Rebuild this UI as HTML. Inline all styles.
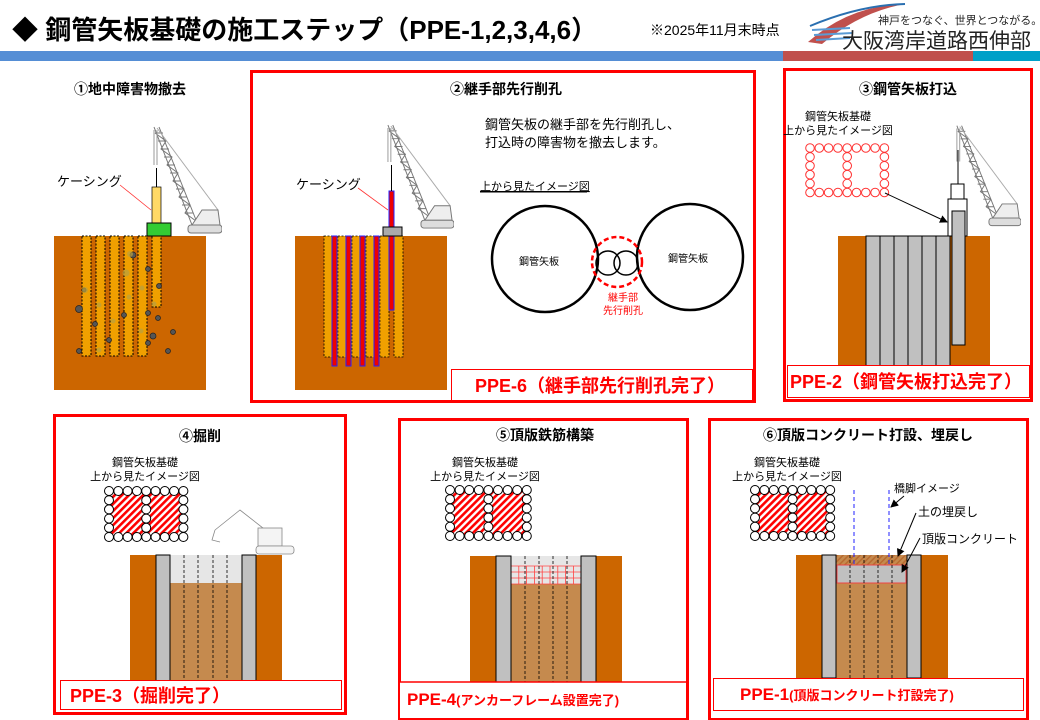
<!DOCTYPE html>
<html><head><meta charset="utf-8">
<style>
html,body{margin:0;padding:0;background:#fff;}
svg{display:block;font-family:"Liberation Sans","Noto Sans CJK JP",sans-serif;}
</style></head>
<body>
<svg id="s" width="1040" height="720" viewBox="0 0 1040 720" xmlns="http://www.w3.org/2000/svg">
<defs>
<pattern id="hat" width="5" height="5" patternUnits="userSpaceOnUse" patternTransform="rotate(45)">
<rect width="5" height="5" fill="#fff"/><rect width="2.6" height="5" fill="#f00"/></pattern>
<pattern id="soil" width="4" height="4" patternUnits="userSpaceOnUse" patternTransform="rotate(45)">
<rect width="4" height="4" fill="#c58a4e"/><rect width="1.5" height="4" fill="#b86a30"/></pattern>
<marker id="ar" markerWidth="8" markerHeight="8" refX="7" refY="4" orient="auto"><path d="M0,0 L8,4 L0,8z" fill="#000"/></marker>
<symbol id="crane" viewBox="0 0 70 115">
<g stroke="#777" stroke-width="1" fill="none">
<path d="M2,2 L40,100 M7,2 L46,100"/>
<path d="M3,8 L11,8 M6,16 L14,16 M9,24 L17,24 M12,32 L20,32 M15,40 L23,40 M18,48 L26,48 M21,56 L29,56 M24,64 L32,64 M27,72 L35,72 M30,80 L38,80 M33,88 L41,88"/>
<path d="M3,8 L14,16 L9,24 L20,32 L15,40 L26,48 L21,56 L32,64 L27,72 L38,80 L33,88 L44,96"/>
<path d="M5,3 L66,85" stroke="#aaa"/>
<path d="M2,5 L2,40 M5,5 L5,40" stroke="#999"/>
<path d="M50,85 L66,85 L68,100 L40,100 Z" fill="#eee"/>
<rect x="36" y="100" width="34" height="8" rx="3" fill="#ddd"/>
</g></symbol>
</defs>

<!-- header -->
<text x="12" y="39" font-size="26" font-weight="bold" fill="#000">◆ 鋼管矢板基礎の施工ステップ（PPE-1,2,3,4,6）</text>
<text x="650" y="35" font-size="14" fill="#000">※2025年11月末時点</text>
<path d="M808,42 Q850,5 905,4 Q860,12 822,44 Z" fill="#c0504d"/>
<path d="M810,26 Q860,5 905,4" stroke="#2a6fb0" stroke-width="2" fill="none"/>
<path d="M812,30 L850,28 M814,35 L852,33 M816,40 L850,38" stroke="#5b9bd5" stroke-width="2"/>
<text x="878" y="24" font-size="11" fill="#222">神戸をつなぐ、世界とつながる。</text>
<text x="842" y="48" font-size="21" fill="#222">大阪湾岸道路西伸部</text>
<rect x="0" y="51" width="783" height="10" fill="#558ed5"/>
<rect x="783" y="51" width="190" height="10" fill="#c0504d"/>
<rect x="973" y="51" width="67" height="10" fill="#00a0c8"/>

<!-- panel 1 -->
<text x="130" y="94" font-size="14" font-weight="bold" text-anchor="middle">①地中障害物撤去</text>
<rect x="54" y="236" width="152" height="154" fill="#cc6600"/>
<g fill="#f0a000" stroke="#000" stroke-dasharray="2,1.5" stroke-width="1">
<rect x="82" y="236" width="9" height="120"/><rect x="96" y="236" width="9" height="120"/><rect x="110" y="236" width="9" height="120"/><rect x="124" y="236" width="9" height="120"/><rect x="138" y="236" width="9" height="120"/><rect x="152" y="236" width="9" height="71"/></g>
<g fill="#555" stroke="#222" stroke-width="0.7">
<circle cx="133" cy="255" r="3"/><circle cx="148" cy="269" r="2.5"/><circle cx="79" cy="309" r="3.5"/><circle cx="95" cy="324" r="2.5"/><circle cx="124" cy="315" r="2.5"/><circle cx="159" cy="286" r="2.5"/><circle cx="148" cy="313" r="2.5"/><circle cx="158" cy="318" r="2.5"/><circle cx="153" cy="336" r="3"/><circle cx="173" cy="332" r="2.5"/><circle cx="109" cy="340" r="2.5"/><circle cx="79" cy="351" r="2.5"/><circle cx="148" cy="343" r="2.5"/><circle cx="168" cy="351" r="2.5"/><circle cx="84" cy="290" r="2"/></g>
<g fill="#b8a040" opacity="0.7"><circle cx="130" cy="254" r="3"/><circle cx="126" cy="273" r="3.5"/><circle cx="85" cy="290" r="3"/><circle cx="99" cy="305" r="2.5"/><circle cx="129" cy="297" r="2.5"/><circle cx="142" cy="288" r="2.5"/><circle cx="154" cy="304" r="2.5"/><circle cx="113" cy="321" r="2.5"/><circle cx="141" cy="331" r="2.5"/><circle cx="99" cy="350" r="2.5"/></g>
<rect x="152" y="187" width="9" height="36" fill="#ffd966" stroke="#000" stroke-width="0.7"/>
<line x1="156.5" y1="168" x2="156.5" y2="187" stroke="#000"/>
<rect x="147" y="223" width="24" height="13" fill="#33cc33" stroke="#000"/>
<use href="#crane" x="152" y="125" width="70" height="115"/>
<text x="57" y="186" font-size="13">ケーシング</text>
<line x1="120" y1="185" x2="151" y2="210" stroke="#f33" stroke-width="0.8"/>

<!-- panel 2 -->
<rect x="251.5" y="71.5" width="503" height="330" fill="none" stroke="#f00" stroke-width="3"/>
<text x="506" y="94" font-size="14" font-weight="bold" text-anchor="middle">②継手部先行削孔</text>
<rect x="295" y="236" width="152" height="154" fill="#cc6600"/>
<g fill="#f0a000" stroke="#000" stroke-dasharray="2,1.5" stroke-width="0.8">
<rect x="324" y="236" width="65" height="121"/><rect x="394" y="236" width="9" height="121"/></g>
<g stroke="#000" stroke-dasharray="2,1.5" stroke-width="0.6"><line x1="338" y1="236" x2="338" y2="357"/><line x1="352" y1="236" x2="352" y2="357"/><line x1="366" y1="236" x2="366" y2="357"/><line x1="380" y1="236" x2="380" y2="357"/></g>
<g fill="#e00" stroke="#22f" stroke-width="1"><rect x="332" y="236" width="5" height="130"/><rect x="346" y="236" width="5" height="130"/><rect x="360" y="236" width="5" height="130"/><rect x="374" y="236" width="5" height="130"/><rect x="389" y="191" width="5" height="119"/></g>
<line x1="391.5" y1="165" x2="391.5" y2="191" stroke="#000"/>
<rect x="383" y="227" width="19" height="9" fill="#aaa" stroke="#000"/>
<use href="#crane" x="386" y="123" width="68" height="112"/>
<text x="296" y="189" font-size="13">ケーシング</text>
<line x1="358" y1="188" x2="388" y2="210" stroke="#f33" stroke-width="0.8"/>
<text x="485" y="129" font-size="13">鋼管矢板の継手部を先行削孔し、</text>
<text x="485" y="147" font-size="13">打込時の障害物を撤去します。</text>
<text x="480" y="190" font-size="11" text-decoration="underline">上から見たイメージ図</text>
<line x1="480" y1="192" x2="587" y2="192" stroke="#000"/>
<g fill="none" stroke="#000" stroke-width="2.5"><circle cx="545" cy="259" r="53"/><circle cx="690" cy="257" r="53"/></g>
<g fill="none" stroke="#000" stroke-width="1.5"><circle cx="608" cy="263" r="12"/><circle cx="626" cy="263" r="12"/></g>
<circle cx="617" cy="262" r="25" fill="none" stroke="#f00" stroke-width="2.5" stroke-dasharray="5,3"/>
<text x="539" y="265" font-size="10" text-anchor="middle">鋼管矢板</text>
<text x="688" y="262" font-size="10" text-anchor="middle">鋼管矢板</text>
<text x="623" y="301" font-size="10" fill="#f00" text-anchor="middle">継手部</text>
<text x="623" y="314" font-size="10" fill="#f00" text-anchor="middle">先行削孔</text>
<rect x="451.5" y="369.5" width="301" height="31" fill="#fff" stroke="#f00"/>
<text x="600" y="392" font-size="18" font-weight="bold" fill="#f00" text-anchor="middle">PPE-6（継手部先行削孔完了）</text>

<!-- panel 3 -->
<rect x="784.5" y="69.5" width="247" height="331" fill="none" stroke="#f00" stroke-width="3"/>
<text x="908" y="94" font-size="14" font-weight="bold" text-anchor="middle">③鋼管矢板打込</text>
<text x="838" y="120" font-size="11" text-anchor="middle">鋼管矢板基礎</text>
<text x="838" y="134" font-size="11" text-anchor="middle">上から見たイメージ図</text>
<g id="g3" fill="#fff" stroke="#f33" stroke-width="1"></g>
<rect x="838" y="236" width="152" height="130" fill="#cc6600"/>
<g fill="#c0c0c0" stroke="#000" stroke-width="1"><rect x="866" y="236" width="14" height="130"/><rect x="880" y="236" width="14" height="130"/><rect x="894" y="236" width="14" height="130"/><rect x="908" y="236" width="14" height="130"/><rect x="922" y="236" width="14" height="130"/><rect x="936" y="236" width="14" height="130"/></g>
<rect x="948" y="199" width="19" height="37" fill="#fff" stroke="#000"/>
<rect x="951" y="184" width="13" height="15" fill="#fff" stroke="#000"/>
<rect x="952" y="211" width="13" height="134" fill="#c0c0c0" stroke="#000"/>
<line x1="958" y1="150" x2="958" y2="184" stroke="#000"/>
<use href="#crane" x="955" y="123" width="66" height="110"/>
<line x1="885" y1="193" x2="947" y2="222" stroke="#000" marker-end="url(#ar)"/>
<rect x="787.5" y="365.5" width="242" height="32" fill="#fff" stroke="#f00"/>
<text x="906" y="388" font-size="18" font-weight="bold" fill="#f00" text-anchor="middle">PPE-2（鋼管矢板打込完了）</text>

<!-- panel 4 -->
<rect x="54.5" y="415.5" width="291" height="298" fill="none" stroke="#f00" stroke-width="3"/>
<text x="200" y="441" font-size="14" font-weight="bold" text-anchor="middle">④掘削</text>
<text x="145" y="466" font-size="11" text-anchor="middle">鋼管矢板基礎</text>
<text x="145" y="480" font-size="11" text-anchor="middle">上から見たイメージ図</text>
<g id="g4"></g>
<rect x="130" y="555" width="152" height="126" fill="#cc6600"/>
<rect x="170" y="555" width="72" height="126" fill="#c58a4e"/>
<rect x="170" y="555" width="72" height="28" fill="#e6e6e6"/>
<g stroke="#000" stroke-width="0.8" stroke-dasharray="3,2"><line x1="184" y1="555" x2="184" y2="681"/><line x1="198" y1="555" x2="198" y2="681"/><line x1="213" y1="555" x2="213" y2="681"/><line x1="227" y1="555" x2="227" y2="681"/></g>
<g fill="#c0c0c0" stroke="#000"><rect x="156" y="555" width="14" height="126"/><rect x="242" y="555" width="14" height="126"/></g>
<g stroke="#888" fill="#f4f4f4" stroke-width="0.8">
<path d="M215,530 L240,510 L268,532" fill="none"/><path d="M215,530 L212,540 L220,542" fill="none"/>
<rect x="258" y="528" width="24" height="18"/><rect x="256" y="546" width="38" height="8" rx="3"/></g>
<rect x="60.5" y="680.5" width="281" height="29" fill="#fff" stroke="#f00"/>
<text x="70" y="702" font-size="18" font-weight="bold" fill="#f00">PPE-3（掘削完了）</text>

<!-- panel 5 -->
<rect x="399.5" y="419.5" width="288" height="300" fill="none" stroke="#f00" stroke-width="3"/>
<text x="545" y="440" font-size="14" font-weight="bold" text-anchor="middle">⑤頂版鉄筋構築</text>
<text x="485" y="466" font-size="11" text-anchor="middle">鋼管矢板基礎</text>
<text x="485" y="480" font-size="11" text-anchor="middle">上から見たイメージ図</text>
<g id="g5"></g>
<rect x="470" y="556" width="152" height="127" fill="#cc6600"/>
<rect x="511" y="556" width="70" height="127" fill="#c58a4e"/>
<rect x="511" y="556" width="70" height="28" fill="#e6e6e6"/>
<g id="reb" stroke="#f44" stroke-width="0.8"></g>
<g stroke="#000" stroke-width="0.8" stroke-dasharray="3,2"><line x1="525" y1="556" x2="525" y2="683"/><line x1="539" y1="556" x2="539" y2="683"/><line x1="553" y1="556" x2="553" y2="683"/><line x1="567" y1="556" x2="567" y2="683"/></g>
<g fill="#c0c0c0" stroke="#000"><rect x="496" y="556" width="15" height="127"/><rect x="581" y="556" width="15" height="127"/></g>
<rect x="400" y="682" width="286" height="36" fill="#fff"/>
<line x1="400" y1="682" x2="686" y2="682" stroke="#f00" stroke-width="1.5"/>
<text x="407" y="705" font-size="17" font-weight="bold" fill="#f00">PPE-4<tspan font-size="13">(アンカーフレーム設置完了)</tspan></text>

<!-- panel 6 -->
<rect x="709.5" y="419.5" width="318" height="300" fill="none" stroke="#f00" stroke-width="3"/>
<text x="868" y="440" font-size="14" font-weight="bold" text-anchor="middle">⑥頂版コンクリート打設、埋戻し</text>
<text x="787" y="466" font-size="11" text-anchor="middle">鋼管矢板基礎</text>
<text x="787" y="480" font-size="11" text-anchor="middle">上から見たイメージ図</text>
<g id="g6"></g>
<rect x="796" y="555" width="152" height="123" fill="#cc6600"/>
<rect x="836" y="555" width="71" height="123" fill="#c58a4e"/>
<rect x="836" y="555" width="71" height="10" fill="url(#soil)"/>
<rect x="837" y="565" width="69" height="18" fill="#c0c0c0" stroke="#e44"/>
<g stroke="#000" stroke-width="0.8" stroke-dasharray="3,2"><line x1="850" y1="555" x2="850" y2="678"/><line x1="864" y1="555" x2="864" y2="678"/><line x1="878" y1="555" x2="878" y2="678"/><line x1="892" y1="555" x2="892" y2="678"/></g>
<g fill="#c0c0c0" stroke="#000"><rect x="822" y="555" width="14" height="123"/><rect x="907" y="555" width="14" height="123"/></g>
<g stroke="#22f" stroke-dasharray="4,3"><line x1="854" y1="490" x2="854" y2="565"/><line x1="889" y1="490" x2="889" y2="565"/></g>
<text x="894" y="492" font-size="11">橋脚イメージ</text>
<text x="918" y="516" font-size="12">土の埋戻し</text>
<text x="922" y="543" font-size="12">頂版コンクリート</text>
<line x1="904" y1="496" x2="891" y2="507" stroke="#000" marker-end="url(#ar)"/>
<line x1="916" y1="513" x2="898" y2="556" stroke="#000" marker-end="url(#ar)"/>
<line x1="920" y1="538" x2="902" y2="572" stroke="#000" marker-end="url(#ar)"/>
<rect x="713.5" y="678.5" width="310" height="32" fill="#fff" stroke="#f00"/>
<text x="740" y="700" font-size="17" font-weight="bold" fill="#f00">PPE-1<tspan font-size="13">(頂版コンクリート打設完了)</tspan></text>
</svg>
<script>
var NS="http://www.w3.org/2000/svg";
function el(p,t,a){var e=document.createElementNS(NS,t);for(var k in a)e.setAttribute(k,a[k]);p.appendChild(e);return e;}
function grid(id,x0,y0,dx,dy,r,fill,stroke,hatch){
  var g=document.getElementById(id);
  if(hatch){
    el(g,"rect",{x:x0,y:y0,width:dx*4,height:dy*5,fill:"url(#hat)"});
    el(g,"rect",{x:x0+dx*4,y:y0,width:dx*4,height:dy*5,fill:"url(#hat)"});
  }
  for(var c=0;c<9;c++)for(var r2=0;r2<6;r2++){
    if(r2==0||r2==5||c==0||c==4||c==8)
      el(g,"circle",{cx:x0+c*dx,cy:y0+r2*dy,r:r,fill:fill,stroke:stroke,"stroke-width":1});
  }
}
grid("g3",810,148,9.3,8.9,4.3,"#fff","#f33",false);
grid("g4",109,491,9.3,9.2,4.5,"#fff","#000",true);
grid("g5",450,490,9.6,9.2,4.5,"#fff","#000",true);
grid("g6",755,490,9.4,9.2,4.5,"#fff","#000",true);
var rb=document.getElementById("reb");
for(var x=511;x<=581;x+=7.8)el(rb,"line",{x1:x,y1:566,x2:x,y2:584});
for(var y=566;y<=584;y+=6)el(rb,"line",{x1:511,y1:y,x2:581,y2:y});
</script>
</body></html>
